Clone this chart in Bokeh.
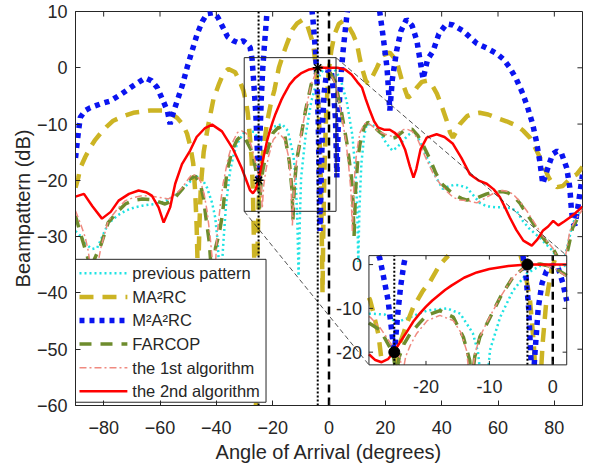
import numpy as np
from bokeh.plotting import figure
from bokeh.models import Range1d, FixedTicker
from bokeh.core.properties import value
from bokeh.embed import file_html
from bokeh.resources import INLINE

# ---------------- data ----------------
x_ticks = [-80, -60, -40, -20, 0, 20, 40, 60, 80]
y_ticks = [-60, -50, -40, -30, -20, -10, 0, 10]
x_lim = [-90, 90]
y_lim = [-60, 10]

inset_x_ticks = [-20, -10, 0]
inset_y_ticks = [-20, -10, 0]
inset_x_lim = [-29, 2.2]
inset_y_lim = [-22.9, 2.05]
zoom_x = [-30.1, 2.5]
zoom_y = [-25.5, 1.8]

null_deg = [-25]
null_db = [-20]
main_deg = [-4]
main_db = [0]
look_deg = [0]

prev_x = [-90, -88, -86, -84, -82.3, -80.5, -78.4, -75, -72.3, -69,
          -66.3, -63.5, -61.7, -58.5, -55.7, -52.5, -50, -47.5, -45, -43.3,
          -41.5, -40.4, -39.5, -38.6, -37.5, -36.5, -35.1, -33.8, -32.6, -30.5,
          -28.8, -26.5, -24.6, -22.5, -19.8, -16.7, -14.6, -12.6, -11.8, -11.2,
          -10.8, -10.3, -9.9, -8.3, -6.3, -4.1, -2, 0, 2, 4.1,
          6.3, 8.3, 9.5, 10, 10.4, 10.8, 11.5, 12.5, 13.4, 15,
          17, 19, 20.5, 22.5, 24, 26.3, 28, 29.9, 31.5, 33.5,
          35.8, 38, 40.4, 42.9, 44.5, 46.5, 48.9, 51, 53.5, 56,
          59.6, 62, 64.5, 66.7, 68.8, 71, 74.8, 77, 79.4, 81.5,
          83, 84.5, 86.5, 88, 90]
prev_db = [-29, -30, -31.5, -32.2, -32, -30, -27.7, -26.2, -25.4, -24.8,
           -24.5, -24.3, -24.2, -23.8, -23, -21.8, -20.6, -19.2, -19.8, -21.3,
           -24, -26.6, -31, -40, -31, -24, -18.3, -15.3, -13.5, -11.7,
           -11.2, -11.4, -13.2, -12, -10.5, -10, -11.2, -15.7, -20, -28,
           -37, -26, -19.5, -12, -6, -2, -0.3, 0, -0.3, -2,
           -6, -12, -19, -25, -34.5, -25, -17, -12, -10, -10.1,
           -10.6, -12.3, -13.5, -14.7, -14.2, -13, -12, -11.3, -12.3, -14.5,
           -17.1, -19.5, -21.5, -21, -20.8, -20.9, -21.3, -22.5, -24, -24.6,
           -24.8, -24.8, -24.9, -25.5, -27.2, -28.5, -30.2, -31.3, -32.5, -34.5,
           -35, -32, -27.7, -26.3, -24.7]

ma2rc_x = [-90, -89, -88.3, -86.5, -84.8, -83, -81.2, -79, -76.6, -73,
           -69.5, -66.5, -63.5, -61, -58.9, -56.5, -53.9, -52, -50.4, -49.2,
           -48.2, -47.5, -47, -46.5, -46, -45.5, -44.5, -43, -41, -39,
           -37.5, -35.7, -33.3, -31.6, -30.4, -29.3, -28.8, -28.3, -27.5, -27,
           -26.5, -26, -25.5, -25, -24.5, -23.5, -22.9, -22, -20.5, -19.4,
           -17.8, -16, -14.9, -13, -11.3, -9.5, -8, -6.7, -5.6, -4.5,
           -3.6, -3, -2.6, -2.3, -2, -1.6, -1, -0.2, 0.8, 2,
           3.5, 5, 7, 8.5, 9.9, 11, 11.7, 13, 13.8, 15,
           17, 19, 21.6, 24, 26.2, 28, 29.5, 31.2, 33, 34.8,
           36.5, 38.3, 40, 41.8, 43, 44, 45, 46.5, 49, 51,
           53.5, 56.5, 59.6, 63, 66.7, 69, 71.3, 73.5, 75.9, 78,
           79.4, 81, 83, 85, 86.5, 88, 90]
ma2rc_db = [-21.3, -19.5, -17.8, -15.8, -14.2, -12.8, -11.7, -10.5, -9.4, -8.6,
            -8, -7.8, -7.6, -7.6, -7.6, -8, -8.9, -10, -11.7, -14,
            -17, -22, -28, -38, -28, -21, -15, -10.5, -5.5, -2.8,
            -1, -0.2, -0.8, -2.5, -4, -6.5, -8.2, -11, -16, -22,
            -35, -65, -35, -24, -19.5, -15.5, -13, -9.7, -6, -4,
            0, 2.8, 4.3, 6.8, 7.9, 8.5, 8, 6, 4.2, -0.5,
            -8, -18, -28, -40, -28, -18, -8, -1, 3, 6,
            7.8, 8.3, 7.3, 6, 4.3, 1.5, 0, -2.2, -2.8, -2,
            0, 2.2, 2.7, 1.2, -2.8, -5.3, -4.8, -3.5, -2.5, -2.3,
            -3, -4.6, -6.8, -9.4, -11.5, -12.4, -11.5, -10, -8.6, -8.2,
            -8, -8.3, -8.9, -9.5, -10.3, -11.2, -12.4, -14.5, -17, -19.5,
            -20.6, -21.2, -21, -20, -19.3, -18.9, -17.6]

m2a2rc_x = [-90, -89, -88.3, -86.5, -84.8, -81, -77.7, -73.5, -69.5, -65.2,
            -63, -61, -58.8, -57.4, -56.4, -55.3, -53.9, -52, -50.4, -48.5,
            -46.8, -45, -43.3, -41.1, -39.5, -37.6, -36, -34, -32, -30.5,
            -29, -28, -27.3, -26.8, -26, -25.5, -25, -24.5, -24, -23.5,
            -23, -22, -21, -8, -6, -5.6, -4.8, -4.2, -3.8, -3.5,
            -3.2, -2.8, -2.3, -1.7, -1, 0, 0.8, 1.6, 2.3, 2.8,
            3.3, 4, 5, 6.4, 7.5, 16.5, 18, 19.1, 20.6, 21.6,
            22.5, 24, 25.5, 27.5, 29.5, 31.2, 33.4, 35, 37, 39,
            41.7, 44, 47.5, 52.5, 56, 59.6, 62, 64.2, 66.5, 68.8,
            70.5, 72.3, 73.6, 74.8, 75.9, 77.7, 79.4, 81, 82.6, 84.4,
            85.5, 86, 86.6, 87.3, 88.3, 90]
m2a2rc_db = [-16, -11.5, -8.8, -7.6, -7.1, -6.4, -5.9, -4.6, -3.2, -1.8,
             -2.3, -3.5, -6, -7.6, -10, -8, -5.9, -3, 0, 3.2,
             6, 8.2, 9.6, 9.8, 9, 7.1, 5.5, 4.8, 4.4, 4.8,
             4.2, 3.6, 1.5, -2, -8, -14, -20.5, -12, -5, 0,
             3.5, 10, 14, 14, 10, 8, 3, -3, -10, -20,
             -29, -20, -10, -4.3, -1.5, -0.2, -0.5, -4.3, -9, -19.5,
             -10, -3, 3, 9.6, 13, 13, 10, 6, 0, -7.6,
             -2, 3, 6.5, 8.6, 7.5, 4.8, -2, 1.5, 3, 6,
             7.8, 7.6, 6.6, 4.3, 3.5, 2.5, 1.5, 0, -2, -4.6,
             -7, -10, -13, -16.5, -20.6, -17.8, -15.3, -14.8, -15.3, -17.8,
             -21.3, -24.8, -27.5, -28, -25, -19]

farcop_x = [-90, -88.5, -87, -85.5, -84.5, -83.3, -81, -78.4, -75, -72.3,
            -69, -66.3, -63.5, -61.7, -58.2, -56.5, -54.6, -52, -50, -47.5,
            -45.7, -44.6, -43.6, -42.5, -41.5, -40.3, -39, -37.8, -37, -36.2,
            -34.4, -32.6, -31, -30, -28.8, -27.2, -25.7, -25.1, -24.7, -24.2,
            -23.5, -22.5, -21, -19.9, -17.8, -15.7, -14.1, -13.1, -12.8, -12.3,
            -11.5, -10.4, -8.3, -6.3, -4.1, -2, 0, 2.2, 4.3, 6.4,
            8, 8.5, 8.9, 9.4, 10.2, 11, 12.5, 13.8, 15.5, 17.5,
            19.5, 21.5, 23.5, 25.5, 27.5, 29.5, 31.5, 33.5, 35.8, 38,
            40.4, 44, 47, 49, 52.5, 56, 58.5, 61.5, 63.5, 66,
            68, 70.2, 72.3, 74.8, 77.3, 79.4, 81, 83, 84.5, 86.5,
            88, 90]
farcop_db = [-26.3, -29, -31.5, -34, -38, -34, -31.5, -27.5, -25.5, -24.2,
             -23.5, -23.3, -23.4, -23.6, -24.2, -23.8, -23, -21.5, -20, -19.2,
             -20.6, -23, -27, -31, -38, -32, -29.5, -26, -22, -18.3,
             -14.7, -12.8, -12, -12.3, -13.5, -15, -18.9, -21.2, -25, -21,
             -18.2, -15.8, -13.3, -11.6, -10.5, -12, -16.6, -21.9, -27, -21,
             -16.5, -13.5, -7.5, -2.9, -0.2, 0.15, -0.5, -2.5, -7.5, -13.5,
             -19.6, -23.5, -30, -22, -16.5, -13.5, -10.5, -9.7, -10.2, -11.2,
             -12, -12.6, -12.4, -11.6, -10.9, -10.9, -12, -13.8, -16.2, -18.8,
             -20.8, -22.4, -23.2, -23.5, -23.1, -22.4, -22.1, -22, -22.2, -23,
             -24.2, -26, -27.5, -29.5, -31, -32, -33.5, -36, -33, -28.4,
             -27, -25.6]

alg1_x = [-90, -88, -86.5, -85.5, -84.5, -83.5, -82.5, -81, -78.4, -75,
          -72.3, -69, -66.3, -63.5, -60.6, -57, -54.5, -52.1, -50, -48.6,
          -46.8, -45.7, -44.3, -43.3, -42.2, -41.5, -40.8, -39.8, -38.5, -37.6,
          -35.8, -34, -32.5, -31, -29.5, -28.8, -27.2, -25.7, -24.1, -23.7,
          -23.2, -22.5, -21.5, -19.8, -17.8, -15.7, -14.5, -13.6, -13, -12.3,
          -11.5, -10.4, -8.3, -6.3, -4.1, -2, 0, 2.2, 4.3, 6,
          7, 7.8, 8.3, 8.8, 9.8, 11, 12.5, 13.5, 15.5, 17.5,
          20, 22.5, 24.5, 26, 27.7, 29.5, 31.2, 33, 34.8, 37,
          39.4, 41.5, 44, 46.5, 48.9, 52.5, 55, 57, 59.5, 61.7,
          63.5, 65.2, 67.5, 70.2, 72.5, 74.8, 77, 79.4, 81.5, 83,
          84.5, 85.5, 87.5, 90]
alg1_db = [-25.4, -28, -30.2, -32.5, -36, -40, -36, -32, -27.2, -25,
           -23.6, -23, -22.7, -22.8, -23, -23.3, -22.5, -21.3, -19.8, -18.9,
           -19.3, -20, -22.5, -25.4, -30, -33.7, -40, -30, -24, -20.6,
           -16, -13, -11.5, -11.2, -11.6, -12, -14.5, -17.7, -21.2, -25,
           -21, -18.5, -15.8, -12.8, -11.6, -12.8, -15.5, -19.6, -28, -20.5,
           -16.5, -13.2, -7.5, -2.9, -0.2, 0.1, -0.6, -2.8, -8, -13,
           -17.5, -22, -29, -21, -15, -11.5, -10, -9.7, -10.4, -11.3,
           -11.8, -12.2, -11.6, -11, -10.9, -11.3, -12.4, -14.5, -16.5, -18.8,
           -20.6, -21.8, -23, -23.5, -23.6, -24, -23.3, -22.7, -22, -21.8,
           -22, -22.4, -23.6, -25.4, -27.2, -29, -30.6, -32, -34, -36,
           -32, -29, -27, -25.2]

alg2_x = [-90, -87, -84, -80.6, -77.5, -74.7, -71, -67.6, -65, -62.9,
          -60.5, -58.7, -56.4, -54.6, -52.2, -49.3, -47, -44, -41.5, -38,
          -34, -31, -29.5, -28, -27, -26, -25, -24, -23, -22,
          -21, -20, -19, -18, -17, -16, -14, -12, -10, -7,
          -4, 0, 3, 5.7, 8, 10, 11.7, 13, 14.5, 16,
          17.4, 19.5, 21.6, 23.5, 25.2, 27, 28.7, 30, 31, 32.5,
          34.7, 38.2, 41, 44, 47, 50, 53, 56, 58.5, 60.7,
          62.5, 64.2, 66.5, 69, 72, 74, 76, 77.8, 79.6, 81.4,
          83.5, 85.5, 87.5, 90]
alg2_db = [-22.9, -22.4, -24.6, -26.8, -25.6, -23.6, -22.4, -21.8, -22.1, -22.7,
           -24.8, -27.5, -24.8, -20.6, -17.1, -14.7, -12.3, -10.7, -10.1, -11.3,
           -14.5, -17.8, -19.8, -21.8, -22.3, -21.6, -19.8, -17.5, -15.3, -13,
           -11.2, -9.6, -8.2, -7, -5.8, -4.8, -3, -1.8, -1, -0.3,
           0, 0, 0, -0.3, -1.2, -2.5, -3.5, -5.5, -7.6, -9.5,
           -10.6, -11, -11, -11.6, -12.5, -14.5, -17.5, -19.5, -18, -14.5,
           -12.4, -11.8, -12.3, -13.5, -16, -18.9, -20, -20.6, -21.6, -23,
           -24.8, -26.6, -28.8, -30.7, -31.6, -30.5, -28.9, -28.2, -27.2, -28,
           -27.3, -26.6, -25.8, -24.7]

labels = ["previous pattern", "MA\u00b2RC", "M\u00b2A\u00b2RC", "FARCOP",
          "the 1st algorithm", "the 2nd algorithm"]

# ---------------- styling / layout constants ----------------
FONT = "Liberation Sans"
TXT = "#262626"
styles = [
    dict(line_color="#1FE3E3", line_width=2.5, line_dash="2 3"),
    dict(line_color="#CCB424", line_width=4.5, line_dash="14 9"),
    dict(line_color="#0A14F0", line_width=5.5, line_dash="5 5"),
    dict(line_color="#6E8C2D", line_width=3.5, line_dash="12 9"),
    dict(line_color="#F08A80", line_width=1.5, line_dash="7 3 2 3"),
    dict(line_color="#FF0000", line_width=2.5),
]
series = [(prev_x, prev_db), (ma2rc_x, ma2rc_db), (m2a2rc_x, m2a2rc_db),
          (farcop_x, farcop_db), (alg1_x, alg1_db), (alg2_x, alg2_db)]

# where the inset and the legend box sit, in the main plot's data units
place_x = [14.18, 84.4]
place_y = [-52.78, -33.37]
legend_place_x = [-90, -22.36]
legend_place_y = [-59.42, -34.03]
# legend box in its own pixel-like units (width 191, height 143, y downward)
LEG_W, LEG_H = 191, 143


def clip_to_box(xs, ys, x0, x1, y0, y1):
    """Liang-Barsky clipping of a polyline; pieces separated by NaN."""
    ox, oy = [], []
    for i in range(len(xs) - 1):
        ax, ay, bx, by = xs[i], ys[i], xs[i + 1], ys[i + 1]
        dx, dy = bx - ax, by - ay
        t0, t1 = 0.0, 1.0
        ok = True
        for pp, qq in ((-dx, ax - x0), (dx, x1 - ax), (-dy, ay - y0), (dy, y1 - ay)):
            if pp == 0:
                if qq < 0:
                    ok = False
                    break
            else:
                r = qq / pp
                if pp < 0:
                    if r > t1:
                        ok = False
                        break
                    t0 = max(t0, r)
                else:
                    if r < t0:
                        ok = False
                        break
                    t1 = min(t1, r)
        if not ok:
            continue
        sx, sy = ax + t0 * dx, ay + t0 * dy
        ex, ey = ax + t1 * dx, ay + t1 * dy
        if ox and not np.isnan(ox[-1]) and abs(ox[-1] - sx) < 1e-9 and abs(oy[-1] - sy) < 1e-9:
            pass
        else:
            if ox:
                ox.append(np.nan)
                oy.append(np.nan)
            ox.append(sx)
            oy.append(sy)
        ox.append(ex)
        oy.append(ey)
    return np.array(ox, dtype=float), np.array(oy, dtype=float)


p = figure(width=591, height=468,
           x_range=Range1d(*x_lim), y_range=Range1d(*y_lim),
           output_backend="svg", toolbar_location=None,
           min_border_left=75, min_border_right=9,
           min_border_top=11, min_border_bottom=63,
           x_axis_label="Angle of Arrival (degrees)",
           y_axis_label="Beampattern (dB)")
p.grid.visible = False
p.outline_line_color = TXT
p.background_fill_color = "white"
p.border_fill_color = "white"

p.xaxis.ticker = FixedTicker(ticks=x_ticks)
p.yaxis.ticker = FixedTicker(ticks=y_ticks)
for ax in [p.xaxis[0], p.yaxis[0]]:
    ax.major_tick_in = 5
    ax.major_tick_out = 0
    ax.minor_tick_in = 0
    ax.minor_tick_out = 0
    ax.axis_line_color = TXT
    ax.major_tick_line_color = TXT
    ax.major_label_text_font = FONT
    ax.major_label_text_font_size = "18px"
    ax.major_label_text_color = TXT
    ax.axis_label_text_font = FONT
    ax.axis_label_text_font_size = "20px"
    ax.axis_label_text_font_style = "normal"
    ax.axis_label_text_color = TXT
p.xaxis.major_label_standoff = 15
p.xaxis.axis_label_standoff = 4
p.yaxis.major_label_standoff = 8
p.yaxis.axis_label_standoff = 0

# box ticks on top and right sides
nx = len(x_ticks)
p.segment(x0=x_ticks, y0=[y_lim[1]] * nx, x1=x_ticks, y1=[y_lim[1] - 0.9] * nx,
          line_color=TXT, line_width=1)
ny = len(y_ticks)
p.segment(x0=[x_lim[1]] * ny, y0=y_ticks, x1=[x_lim[1] - 1.8] * ny, y1=y_ticks,
          line_color=TXT, line_width=1)

# main curves
for (sx, sy), st in zip(series, styles):
    p.line(sx, sy, **st)

# constraint / look-direction lines
p.segment(x0=null_deg + main_deg, y0=[y_lim[0]] * 2, x1=null_deg + main_deg, y1=[y_lim[1]] * 2,
          line_color="black", line_width=2, line_dash="2 2")
p.segment(x0=look_deg, y0=[y_lim[0]], x1=look_deg, y1=[y_lim[1]],
          line_color="black", line_width=2.5, line_dash="8 5")
p.scatter(null_deg + main_deg, null_db + main_db, marker="asterisk", size=10,
          line_color="black", line_width=1.5)

# zoom rectangle and connector lines
p.quad(left=[zoom_x[0]], right=[zoom_x[1]], bottom=[zoom_y[0]], top=[zoom_y[1]],
       fill_alpha=0, line_color=TXT, line_width=1)
p.segment(x0=[zoom_x[0], zoom_x[1]], y0=[zoom_y[0], zoom_y[1]],
          x1=[place_x[0], place_x[1]], y1=[place_y[0], place_y[1]],
          line_color=TXT, line_width=0.8, line_dash="5 3")

# ---------------- inset ----------------
xy = p.subplot(x_source=Range1d(*inset_x_lim), y_source=Range1d(*inset_y_lim),
               x_target=Range1d(*place_x), y_target=Range1d(*place_y))
xy.quad(left=[inset_x_lim[0]], right=[inset_x_lim[1]], bottom=[inset_y_lim[0]],
        top=[inset_y_lim[1]], fill_color="white", line_color=None)
for (sx, sy), st in zip(series, styles):
    cx, cy = clip_to_box(sx, sy, inset_x_lim[0], inset_x_lim[1], inset_y_lim[0], inset_y_lim[1])
    xy.line(cx, cy, **st)
xy.segment(x0=null_deg + main_deg, y0=[inset_y_lim[0]] * 2, x1=null_deg + main_deg,
           y1=[inset_y_lim[1]] * 2, line_color="black", line_width=2, line_dash="2 2")
xy.segment(x0=look_deg, y0=[inset_y_lim[0]], x1=look_deg, y1=[inset_y_lim[1]],
           line_color="black", line_width=2.5, line_dash="8 5")
xy.scatter(null_deg + main_deg, null_db + main_db, marker="circle", size=11,
           fill_color="black", line_color="black")
xy.quad(left=[inset_x_lim[0]], right=[inset_x_lim[1]], bottom=[inset_y_lim[0]],
        top=[inset_y_lim[1]], fill_alpha=0, line_color=TXT, line_width=1)
# inset ticks
n = len(inset_x_ticks)
xy.segment(x0=inset_x_ticks, y0=[inset_y_lim[0]] * n, x1=inset_x_ticks,
           y1=[inset_y_lim[0] + 0.9] * n, line_color=TXT)
xy.segment(x0=inset_x_ticks, y0=[inset_y_lim[1]] * n, x1=inset_x_ticks,
           y1=[inset_y_lim[1] - 0.9] * n, line_color=TXT)
m = len(inset_y_ticks)
xy.segment(x0=[inset_x_lim[0]] * m, y0=inset_y_ticks, x1=[inset_x_lim[0] + 0.65] * m,
           y1=inset_y_ticks, line_color=TXT)
xy.segment(x0=[inset_x_lim[1]] * m, y0=inset_y_ticks, x1=[inset_x_lim[1] - 0.65] * m,
           y1=inset_y_ticks, line_color=TXT)
xy.text(x=inset_x_ticks, y=[inset_y_lim[0]] * n, text=[str(t) for t in inset_x_ticks],
        y_offset=22, text_align="center", text_baseline="middle",
        text_font=value(FONT), text_font_size="18px", text_color=TXT)
xy.text(x=[inset_x_lim[0]] * m, y=inset_y_ticks, text=[str(t) for t in inset_y_ticks],
        x_offset=-7, text_align="right", text_baseline="middle",
        text_font=value(FONT), text_font_size="18px", text_color=TXT)

# ---------------- legend (boxed key, MATLAB style) ----------------
lgd = p.subplot(x_source=Range1d(0, LEG_W), y_source=Range1d(LEG_H, 0),
                x_target=Range1d(*legend_place_x), y_target=Range1d(*legend_place_y))
lgd.quad(left=[0], right=[LEG_W], top=[0], bottom=[LEG_H],
         fill_color="white", line_color=TXT, line_width=1)
row_y = [14 + 23.6 * i for i in range(len(labels))]
for ry, st in zip(row_y, styles):
    lgd.line([4, 52], [ry, ry], **st)
lgd.text(x=[57] * len(labels), y=row_y, text=labels, text_align="left",
         text_baseline="middle", text_font=value(FONT), text_font_size="16.5px",
         text_color=TXT)

open("out.html", "w").write(file_html(p, INLINE))
